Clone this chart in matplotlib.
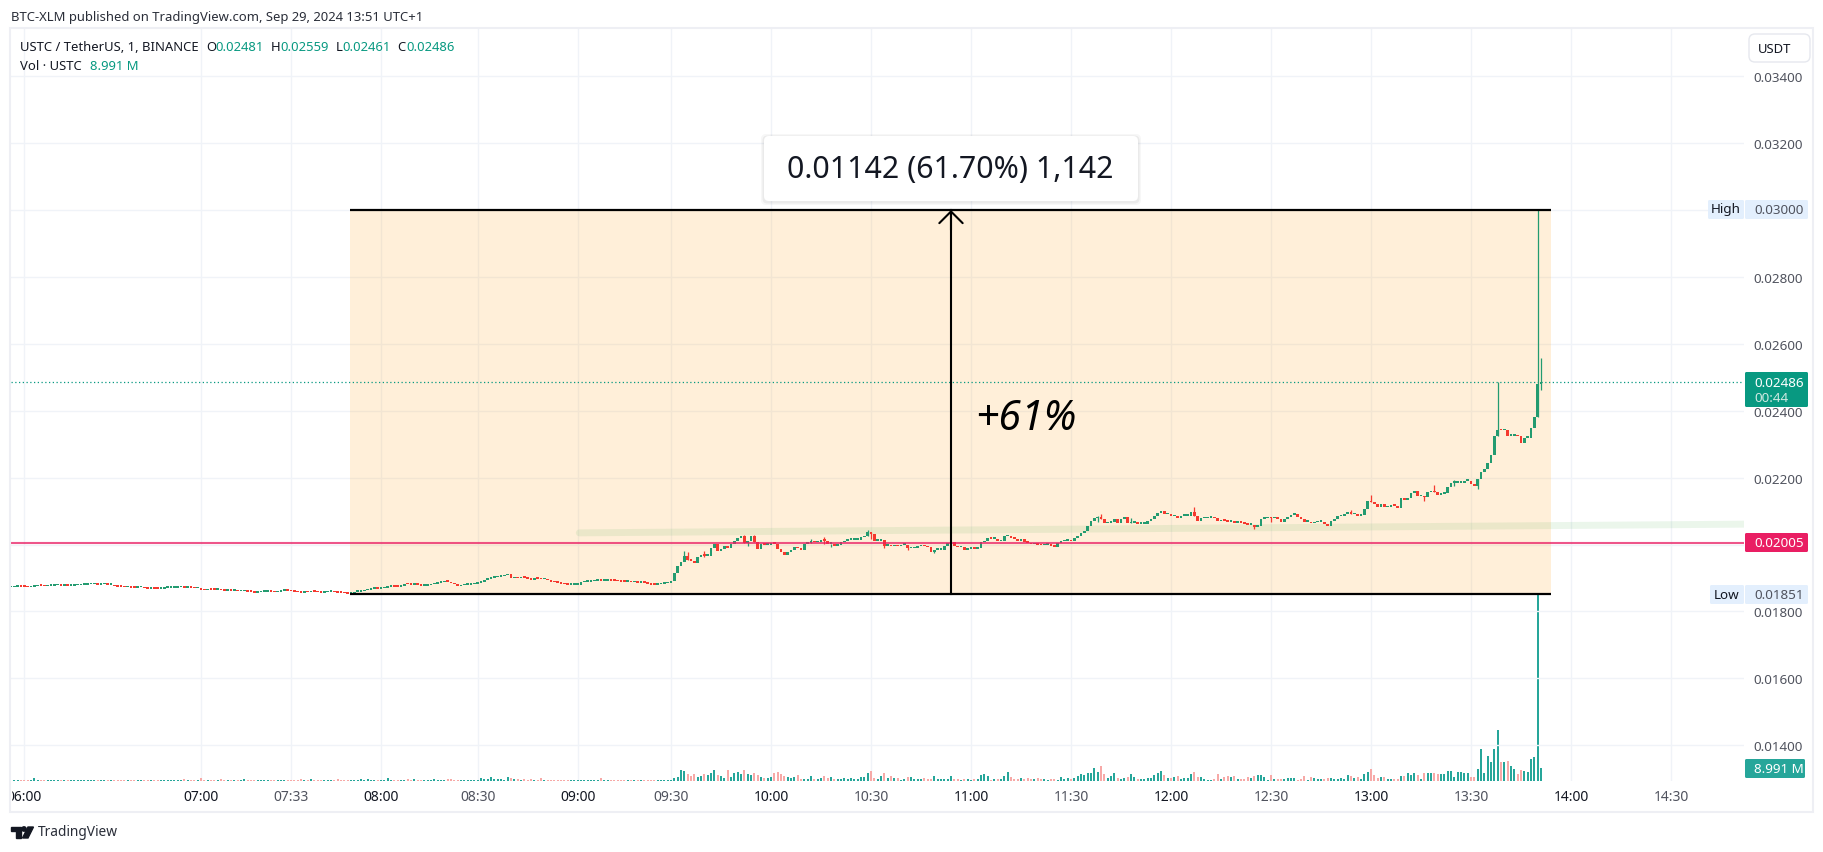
import numpy as np
import matplotlib
matplotlib.use('Agg')
import matplotlib.pyplot as plt
from matplotlib.patches import Rectangle, FancyBboxPatch, Polygon, Circle

plt.rcParams['font.family'] = ['Noto Sans', 'DejaVu Sans']

# closes per 1 minute bar, in 1e-5 USDT
closes = [
    1872,1873,1875,1874,1873,1872,1873,1875,1877,1876,
    1875,1876,1877,1878,1878,1877,1877,1876,1877,1878,
    1878,1879,1880,1881,1881,1881,1880,1881,1881,1880,
    1880,1875,1874,1873,1872,1872,1871,1870,1872,1872,
    1869,1867,1869,1868,1867,1867,1870,1870,1871,1871,
    1872,1872,1871,1871,1870,1869,1869,1865,1863,1866,
    1865,1864,1864,1863,1861,1862,1861,1861,1860,1860,
    1860,1859,1858,1855,1857,1858,1859,1859,1858,1857,
    1858,1861,1862,1861,1860,1858,1857,1856,1862,1857,
    1859,1858,1857,1856,1857,1858,1859,1857,1856,1855,
    1854,1853,1854,1858,1859,1860,1863,1865,1867,1868,
    1867,1869,1871,1873,1875,1874,1873,1875,1882,1881,
    1880,1880,1879,1877,1877,1878,1881,1883,1885,1887,
    1891,1889,1884,1881,1875,1878,1879,1880,1881,1882,
    1885,1887,1894,1897,1900,1902,1904,1905,1908,1912,
    1899,1900,1899,1901,1900,1898,1895,1898,1897,1896,
    1897,1893,1889,1887,1886,1883,1881,1880,1880,1880,
    1880,1887,1888,1889,1890,1892,1893,1892,1892,1893,
    1892,1891,1890,1889,1888,1888,1887,1887,1886,
    1887,1885,1882,1880,1879,1881,1883,1884,1884,1892,
    1915,1937,1949,1967,1955,1952,1944,1962,1969,1967,
    1967,1989,2002,1980,1987,1997,1989,2002,2012,2019,
    2027,2004,2012,2025,2009,1987,2002,1999,1999,2004,
    2002,1987,1977,1969,1977,1985,1992,1989,1985,2002,
    2005,2009,2007,2007,2015,2012,2002,2002,1997,1999,
    2007,2012,2015,2015,2015,2015,2022,2027,2037,2033,
    2012,2012,2015,1997,1999,1995,1999,1995,1999,1999,
    1989,1989,1991,1995,1997,1995,1992,1979,1985,1985,
    1985,1995,2005,2007,1997,1992,1992,1985,1987,1989,
    1987,1989,2007,2012,2021,2017,2017,2010,2010,2025,
    2027,2019,2017,2010,2017,2009,2005,2001,2002,1999,
    1998,2000,2001,1997,1994,2004,2010,2011,2013,2010,
    2021,2026,2036,2041,2054,2071,2078,2078,2076,2063,
    2064,2066,2076,2064,2076,2081,2063,2064,2064,2061,
    2061,2061,2069,2076,2086,2094,2099,2090,2090,2084,
    2084,2078,2086,2086,2086,2096,2086,2071,2078,2078,
    2080,2081,2078,2069,2074,2071,2068,2068,2064,2066,
    2064,2062,2058,2058,2053,2054,2076,2078,2081,2078,
    2078,2076,2068,2076,2083,2088,2090,2081,2076,2068,
    2068,2063,2066,2068,2068,2061,2056,2071,2076,2084,
    2084,2090,2098,2090,2090,2086,2088,2106,2130,2126,
    2121,2111,2121,2111,2111,2118,2116,2108,2138,2134,
    2138,2154,2161,2144,2146,
    2141,2156,2161,2156,2148,2152,2153,2171,2184,2184,
    2184,2184,2191,2191,2181,2176,2196,2218,2226,2244,
    2268,2323,2343,2341,2341,2325,2325,2325,2323,2303,
    2318,2318,2348,2381,2481,2486,
]

# bars with a visible wick: bar number, high, low
wick_bars =  [202,203,208,220,221,223,240,244,246,257,258,262,269,277,326,327,336,355,373,378,402,408,424,427,433,440,446,458,459]
wick_highs = [1982,1977,1982,2029,2012,2029,2017,2024,2002,2044,2037,2015,1995,1985,2086,2091,2078,2112,2058,2081,2104,2148,2146,2178,2193,2196,2486,3000,2559]
wick_lows =  [1967,1955,1962,2004,1997,2009,2005,2002,1992,2027,2017,1990,1984,1975,2068,2076,2063,2086,2046,2068,2090,2126,2131,2156,2176,2166,2323,2381,2461]

# volume in millions
volumes = [
    0.7,0.7,0.7,0.7,0.7,0.7,0.7,2.1,1.0,0.7, 0.7,0.7,0.7,0.7,0.7,0.7,0.7,0.7,0.7,0.7,
    0.7,0.7,0.7,0.7,0.7,0.7,0.7,0.7,0.7,0.7, 0.7,0.7,0.7,0.7,0.7,0.7,0.7,0.7,0.7,0.7,
    0.7,1.0,0.7,0.7,0.7,0.7,0.7,0.7,0.7,0.7, 0.7,1.0,1.4,0.7,0.7,0.7,1.0,2.1,0.7,0.7,
    0.7,0.7,0.7,1.4,0.7,0.7,0.7,0.7,0.7,1.0, 1.4,0.7,0.7,0.7,0.7,0.7,0.7,0.7,0.7,0.7,
    0.7,0.7,0.7,0.7,0.7,0.7,0.7,1.4,0.7,0.7, 1.4,0.7,0.7,0.7,0.7,0.7,0.7,0.7,1.4,0.7,
    0.7,0.7,0.7,0.7,0.7,1.4,0.7,1.4,1.0,0.7, 0.7,0.7,1.0,2.1,0.7,0.7,0.7,0.7,0.7,1.4,
    0.7,1.4,1.0,0.7,0.7,0.7,0.7,1.4,0.7,0.7, 0.7,1.4,1.4,0.7,0.7,0.7,0.7,0.7,0.7,0.7,
    0.7,2.1,1.4,1.4,2.8,1.4,1.4,1.4,1.0,2.8, 2.1,1.4,1.4,1.0,1.4,0.7,1.4,0.7,0.7,2.1,
    0.7,0.7,0.7,0.7,0.7,0.7,0.7,0.7,0.7,0.7, 0.7,0.7,0.7,0.7,0.7,0.7,0.7,2.1,0.7,0.7,
    0.7,0.7,0.7,0.7,0.7,0.7,0.7,0.7,0.7,0.7,
    0.7,0.7,0.7,0.7,0.7,0.7,0.7,0.7,0.7,
    1.9,2.6,7.6,6.9,4.8,3.5,4.8,3.0,3.5,4.8, 4.1,5.5,7.6,4.1,3.5,2.1,7.6,2.8,5.3,6.0,
    4.8,7.6,4.8,4.1,5.3,4.1,2.8,2.1,2.1,2.8, 5.3,6.0,4.8,3.5,2.8,2.1,2.8,4.1,
    1.4,1.4,1.4,3.5,1.4,1.4,2.1,3.5,2.1,2.8, 1.4,1.4,1.4,2.1,1.7,2.1,1.4,1.4,2.8,2.8,
    5.5,6.9,2.1,1.4,3.5,5.5,2.1,3.5,2.1,2.1, 0.7,1.4,2.8,2.8,1.4,1.4,1.4,2.1,1.4,1.4,
    3.5,1.4,1.7,1.4,1.4,3.5,1.4,1.4,0.7,1.4, 1.4,0.7,1.4,1.4,4.1,4.8,3.5,0.7,1.4,1.4,
    1.4,3.5,6.2,2.8,1.4,1.4,2.1,1.4,2.1,1.4, 1.4,2.1,1.4,1.4,0.7,1.4,1.4,0.7,2.8,1.4,
    2.1,1.4,2.1,3.5,4.8,4.1,5.5,5.5,9.0,6.2, 10.4,4.8,2.1,3.5,5.5,2.1,1.4,2.1,2.8,4.8,
    2.8,1.4,1.4,1.4,2.1,2.1,4.1,5.5,6.9,4.1, 2.1,2.1,2.8,3.5,1.4,2.1,2.1,4.8,6.2,2.8,
    2.8,1.4,0.7,0.7,1.4,4.8,1.4,2.8,3.5,2.8, 3.5,1.4,1.4,1.4,2.8,2.1,3.5,4.1,4.1,2.8,
    0.7,4.1,1.4,1.4,1.4,1.4,2.1,2.1,2.1,0.7, 1.4,3.5,0.7,2.8,2.1,1.4,1.4,1.4,2.1,2.1,
    1.4,1.4,2.1,1.4,4.1,3.5,2.1,2.8,1.4,4.8, 6.2,8.3,4.1,2.1,2.8,2.8,1.4,1.4,1.4,1.4,
    3.5,3.5,5.5,4.1,5.5,4.1,1.4,
    5.5,5.5,5.5,5.5,4.8,4.8,4.8,6.9,6.9,2.8, 6.2,6.2,5.5,5.5,2.8,2.8,8.3,22.1,5.5,17.3,
    13.1,22.1,35.2,13.1,13.1,13.8,10.4,8.3,4.8,7.6, 6.9,6.2,15.2,16.6,129.0,8.991,
]

price_ticks = [0.014, 0.016, 0.018, 0.020, 0.022, 0.024, 0.026, 0.028, 0.030, 0.032, 0.034]
price_labels = ['0.01400', '0.01600', '0.01800', '', '0.02200', '0.02400', '0.02600', '0.02800', '', '0.03200', '0.03400']
time_labels = ['06:00', '07:00', '07:33', '08:00', '08:30', '09:00', '09:30', '10:00', '10:30', '11:00', '11:30',
               '12:00', '12:30', '13:00', '13:30', '14:00', '14:30']
time_bars = [4, 57, 84, 111, 140, 170, 198, 228, 258, 288, 318, 348, 378, 408, 438, 468, 498]

range_high = 0.03
range_low = 0.01851
range_start, range_end = 101.6, 462
arrow_bar = 282
last_price = 0.02486
red_line = 0.02005
band_bars = [170.5, 520]
band_prices = [0.02035, 0.02061]

GREEN = '#239b70'
RED = '#f5392f'
GRID = '#f0f3f8'
W, H = 1824, 853
SMALL = 9.4

fig = plt.figure(figsize=(W/100, H/100), dpi=100)
L, R, T, B = 11, 1744, 30, 782
rect = [L/W, (H-B)/H, (R-L)/W, (B-T)/H]
vol_ax = fig.add_axes(rect, zorder=1)
ax = fig.add_axes(rect, zorder=2)
ax.patch.set_visible(False)
ov = fig.add_axes([0, 0, 1, 1], zorder=3)
ov.set_xlim(0, W)
ov.set_ylim(H, 0)
ov.axis('off')

bars_per_px = 1/3.3333
xlim = (0, (R-L)*bars_per_px)
ax.set_xlim(*xlim)
ax.set_ylim(0.03 - (B-211)/33456, 0.03 + (211-T)/33456)

close = np.array(closes)/1e5
opens = np.r_[close[0], close[:-1]]
opens[-1] = 0.02481
x = np.arange(len(close)) + (460 - len(close))
up = close >= opens

# grid
for t in time_bars:
    vol_ax.axvline(t, color=GRID, lw=1)
for p in price_ticks:
    ax.axhline(p, color=GRID, lw=1, zorder=0)

# volume
vol = np.array(volumes)
vx = np.arange(len(vol)) + (460 - len(vol))
vol_up = np.ones(len(vol), dtype=bool)
k = np.isin(vx, x)
vol_up[k] = up[np.searchsorted(x, vx[k])]
vol_ax.bar(vx, vol, width=0.68, color=np.where(vol_up, '#26a69a', '#f7a9a7'), zorder=2)
vol_ax.set_xlim(*xlim)
vol_ax.set_ylim(0, 752*8.991/13)
vol_ax.set_yticks([])
vol_ax.set_xticks([])
for s in vol_ax.spines.values():
    s.set_visible(False)

# measure box
ax.fill_between([range_start, range_end], range_low, range_high, color='#ff9800', alpha=0.15, lw=0, zorder=1)
ax.plot(band_bars, band_prices, color='#4caf50', alpha=0.11, lw=5, solid_capstyle='round', zorder=1.5)

# candles
wick_colors = [GREEN if up[np.searchsorted(x, b)] else RED for b in wick_bars]
ax.vlines(wick_bars, np.array(wick_lows)/1e5, np.array(wick_highs)/1e5, colors=wick_colors, lw=0.9, zorder=3)
heights = np.maximum(np.abs(close-opens), 0.00005)
bottoms = np.minimum(close, opens)
ax.bar(x, heights, bottom=bottoms, width=0.85, color=np.where(up, GREEN, RED), zorder=3.1)

ax.axhline(last_price, color='#089981', lw=0.9, ls=(0, (1, 2)), zorder=2)
ax.axhline(red_line, color='#e91e63', lw=1.5, alpha=0.75, zorder=4)
ax.hlines([range_low, range_high], range_start, range_end, colors='black', lw=1.6, zorder=5)
ax.plot([arrow_bar, arrow_bar], [range_low, range_high], color='black', lw=1.5, zorder=5)
ax.annotate('', xy=(arrow_bar, range_high), xytext=(arrow_bar, range_high-0.0006),
            arrowprops=dict(arrowstyle='->,head_length=0.42,head_width=0.42', color='black', lw=1.5,
                            shrinkA=0, shrinkB=0, mutation_scale=20), zorder=5)

# axes ticks
ax.yaxis.tick_right()
ax.set_yticks(price_ticks)
ax.set_yticklabels(price_labels, color='#50535e', fontsize=9.7)
ax.tick_params(axis='y', length=0, pad=7)
ax.set_xticks(time_bars)
ax.set_xticklabels(time_labels, fontsize=10, color='#50535e')
for lab, name in zip(ax.get_xticklabels(), time_labels):
    if name.endswith(':00'):
        lab.set_fontweight('bold')
        lab.set_color('#131722')
ax.tick_params(axis='x', length=0, pad=6)
for s in ax.spines.values():
    s.set_visible(False)

# overlay
ov.add_patch(Rectangle((0, 770), L, 50, color='white', zorder=1))
ov.add_patch(Rectangle((L-1, T-1), 1813-L+1, 813-T+1, fc='none', ec='#eeeff4', lw=1.5, zorder=2))


def box(x0, y0, x1, y1, color, text=None, tc='white', text2=None, weight='normal'):
    ov.add_patch(FancyBboxPatch((x0+1, y0+1), x1-x0-2, y1-y0-2, boxstyle='round,pad=1,rounding_size=1.5',
                                fc=color, ec='none', zorder=3))
    if text:
        ov.text(1754, (y0+y1)/2 if not text2 else y0+10.5, text, color=tc, fontsize=9.7, va='center',
                fontweight=weight, zorder=4)
    if text2:
        ov.text(1754, y0+26, text2, color='#cfe9e2', fontsize=9.7, va='center', zorder=4)


box(1745, 201, 1808, 220, '#e3effd', '0.03000', '#50535e')
ov.add_patch(FancyBboxPatch((1709, 202), 34, 17, boxstyle='round,pad=1,rounding_size=1.5', fc='#e3effd', ec='none', zorder=3))
ov.text(1726, 209.5, 'High', ha='center', va='center', fontsize=9.7, color='#131722', zorder=4)
box(1745, 586, 1808, 605, '#e3effd', '0.01851', '#50535e')
ov.add_patch(FancyBboxPatch((1711, 587), 32, 17, boxstyle='round,pad=1,rounding_size=1.5', fc='#e3effd', ec='none', zorder=3))
ov.text(1727, 595.5, 'Low', ha='center', va='center', fontsize=9.7, color='#131722', zorder=4)
box(1745, 373, 1808, 408, '#089981', '0.02486', 'white', '00:44')
box(1745, 534, 1808, 553, '#e91e63', '0.02005', 'white')
box(1745, 760, 1805, 779, '#26a69a', '8.991 M', 'white')

ov.add_patch(FancyBboxPatch((1751, 37), 57, 24, boxstyle='round,pad=2,rounding_size=6', fc='white', ec='#e6e8ee', lw=1, zorder=3))
ov.text(1775, 49, 'USDT', ha='center', va='center', fontsize=9.4, color='#131722', zorder=4)

# result label with a soft shadow
for pad, a in [(3, 0.03), (1.5, 0.05)]:
    ov.add_patch(FancyBboxPatch((766, 140), 370, 61, boxstyle='round,pad=%g,rounding_size=5' % (2+pad),
                                fc='black', ec='none', alpha=a, zorder=3))
ov.add_patch(FancyBboxPatch((766, 139), 370, 61, boxstyle='round,pad=2,rounding_size=5', fc='white', ec='none', zorder=3.2))
ov.text(950.5, 170, '0.01142 (61.70%) 1,142', ha='center', va='center', fontsize=21.8, color='#131722', zorder=4)
ov.text(1026, 419, '+61%', ha='center', va='center', fontsize=29.5, style='italic', color='black', zorder=4)

# header text
ov.text(11, 17, 'BTC-XLM published on TradingView.com, Sep 29, 2024 13:51 UTC+1', va='center', fontsize=SMALL, color='#2a2e39')
ov.text(20.5, 47, 'USTC / TetherUS, 1, BINANCE', va='center', fontsize=SMALL, color='#131722')
for xt, s, c in [(206, 'O', '#131722'), (215, '0.02481', '#089981'), (270.5, 'H', '#131722'), (280, '0.02559', '#089981'),
                 (335.5, 'L', '#131722'), (342.5, '0.02461', '#089981'), (397, 'C', '#131722'), (406, '0.02486', '#089981')]:
    ov.text(xt, 47, s, va='center', fontsize=SMALL, color=c)
ov.text(20.5, 66, 'Vol \u00b7 USTC', va='center', fontsize=SMALL, color='#131722')
ov.text(90.5, 66, '8.991 M', va='center', fontsize=SMALL, color='#089981')

# TradingView mark
ov.add_patch(Polygon([(11, 828), (21, 828), (21, 839), (16, 839), (16, 832), (11, 832)], color='#131722'))
ov.add_patch(Circle((24, 830), 2.2, color='#131722'))
ov.add_patch(Polygon([(28, 828), (33.5, 828), (28, 839), (22.5, 839)], color='#131722'))
ov.text(37.5, 833, 'TradingView', va='center', fontsize=9.9, color='#2a2e39')

fig.savefig('out.png', dpi=100)
